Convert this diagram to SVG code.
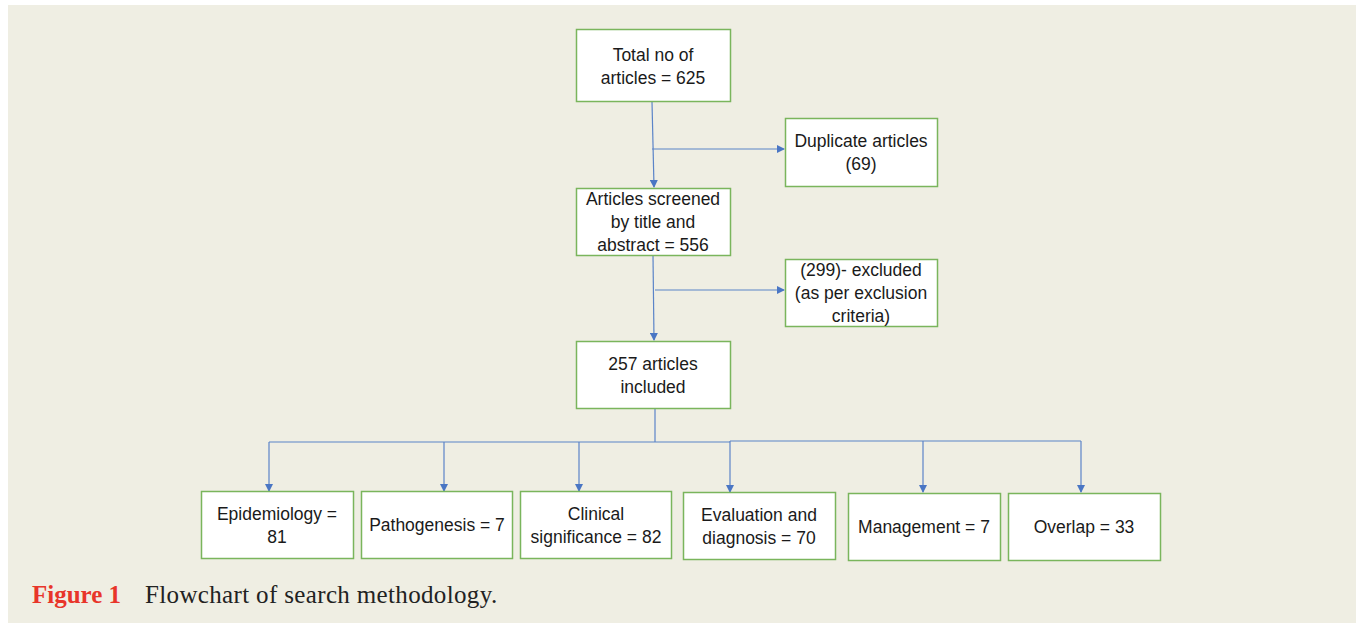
<svg xmlns="http://www.w3.org/2000/svg" width="1356" height="623" viewBox="0 0 1356 623">
<style>
.box{fill:#ffffff;stroke:#7ab55c;stroke-width:1.5}
.t{font-family:"Liberation Sans",Arial,sans-serif;font-size:17.5px;fill:#1a1a1a;text-anchor:middle}
.c{fill:none;stroke:#5b84c8;stroke-width:1.2}
.cap{font-family:"Liberation Serif","Times New Roman",serif;font-size:25px}
</style>
<defs>
<marker id="ah" markerWidth="8" markerHeight="8" refX="7" refY="4" orient="auto" markerUnits="userSpaceOnUse">
<path d="M0,0 L8,4 L0,8 Z" fill="#4a76c4"/>
</marker>
</defs>
<rect x="0" y="0" width="1356" height="623" fill="#ffffff"/>
<rect x="8" y="5" width="1348" height="618" fill="#efeee3"/>

<g id="connectors">
<path class="c" d="M652,102 L654,187" marker-end="url(#ah)"/>
<path class="c" d="M652,149 L784,149" marker-end="url(#ah)"/>
<path class="c" d="M653,256 L654,340" marker-end="url(#ah)"/>
<path class="c" d="M655,290 L784,290" marker-end="url(#ah)"/>
<path class="c" d="M655,409 L655,442"/>
<path class="c" d="M269,442 L730,442"/>
<path class="c" d="M730,441 L1081,441"/>
<path class="c" d="M269,442 L269,491" marker-end="url(#ah)"/>
<path class="c" d="M444,442 L444,491" marker-end="url(#ah)"/>
<path class="c" d="M579,442 L579,491" marker-end="url(#ah)"/>
<path class="c" d="M730,441 L730,492" marker-end="url(#ah)"/>
<path class="c" d="M923,441 L923,492" marker-end="url(#ah)"/>
<path class="c" d="M1081,441 L1081,492" marker-end="url(#ah)"/>
</g>

<g id="total">
<rect class="box" x="576.5" y="29.5" width="154" height="72"/>
<text class="t" x="653" y="61">Total no of</text>
<text class="t" x="653" y="84">articles = 625</text>
</g>
<g id="duplicate">
<rect class="box" x="785.5" y="118.5" width="152" height="68"/>
<text class="t" x="861" y="147">Duplicate articles</text>
<text class="t" x="861" y="170">(69)</text>
</g>
<g id="screened">
<rect class="box" x="576.5" y="188.5" width="154" height="67"/>
<text class="t" x="653" y="205">Articles screened</text>
<text class="t" x="653" y="228">by title and</text>
<text class="t" x="653" y="251">abstract = 556</text>
</g>
<g id="excluded">
<rect class="box" x="785.5" y="259.5" width="152" height="67"/>
<text class="t" x="861" y="276">(299)- excluded</text>
<text class="t" x="861" y="299">(as per exclusion</text>
<text class="t" x="861" y="322">criteria)</text>
</g>
<g id="included">
<rect class="box" x="576.5" y="341.5" width="154" height="67"/>
<text class="t" x="653" y="370">257 articles</text>
<text class="t" x="653" y="393">included</text>
</g>
<g id="epidemiology">
<rect class="box" x="201.5" y="491.5" width="152" height="67"/>
<text class="t" x="277" y="520">Epidemiology =</text>
<text class="t" x="277" y="543">81</text>
</g>
<g id="pathogenesis">
<rect class="box" x="361.5" y="491.5" width="151" height="67"/>
<text class="t" x="437" y="531">Pathogenesis = 7</text>
</g>
<g id="clinical">
<rect class="box" x="520.5" y="491.5" width="151" height="67"/>
<text class="t" x="596" y="520">Clinical</text>
<text class="t" x="596" y="543">significance = 82</text>
</g>
<g id="evaluation">
<rect class="box" x="683.5" y="492.5" width="152" height="67"/>
<text class="t" x="759" y="521">Evaluation and</text>
<text class="t" x="759" y="544">diagnosis = 70</text>
</g>
<g id="management">
<rect class="box" x="848.5" y="493.5" width="152" height="67"/>
<text class="t" x="924" y="533">Management = 7</text>
</g>
<g id="overlap">
<rect class="box" x="1008.5" y="493.5" width="152" height="67"/>
<text class="t" x="1084" y="533">Overlap = 33</text>
</g>

<text class="cap" x="32" y="603"><tspan fill="#e8352a" font-weight="bold">Figure 1</tspan><tspan fill="#222222" x="145" letter-spacing="0.35">Flowchart of search methodology.</tspan></text>
</svg>
